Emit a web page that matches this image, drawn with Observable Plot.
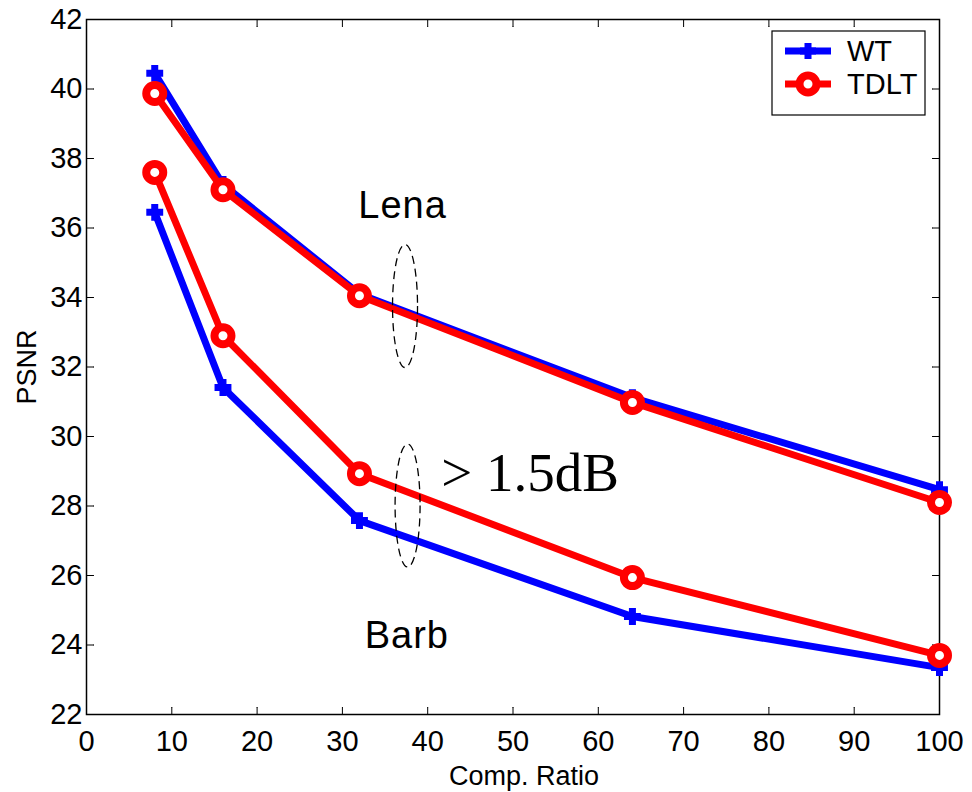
<!DOCTYPE html>
<html>
<head>
<meta charset="utf-8">
<script src="https://cdn.jsdelivr.net/npm/d3@7"></script>
<script src="https://cdn.jsdelivr.net/npm/@observablehq/plot@0.6"></script>
<style>
  html, body { margin: 0; padding: 0; background: white; }
  #chart { width: 972px; height: 792px; }
  .imglabel text { letter-spacing: 1px; }
</style>
</head>
<body>
<div id="chart"></div>
<script>
// ---- data ----
const ratios = [8, 16, 32, 64, 100];
const wtLena = [40.45, 37.25, 34.1, 31.12, 28.47];
const tdltLena = [39.87, 37.1, 34.05, 30.98, 28.1];
const wtBarb = [36.45, 31.41, 27.58, 24.82, 23.35];
const tdltBarb = [37.6, 32.9, 28.93, 25.94, 23.7];
const seriesNames = ["WT", "TDLT"];
const xTicks = [0, 10, 20, 30, 40, 50, 60, 70, 80, 90, 100];
const yTicks = [22, 24, 26, 28, 30, 32, 34, 36, 38, 40, 42];
const imageLabels = ["Lena", "Barb"];
const imageLabelX = [37.05, 37.55];
const imageLabelY = [36.65, 24.25];
const gainLabel = ["> 1.5dB"];
const gainLabelX = [41.6];
const gainLabelY = [28.95];
const ellipseX = [37.4, 37.7];
const ellipseY = [33.74, 28.0];

const toRows = (name, img, ys) => ratios.map((r, i) => ({method: name, image: img, ratio: r, psnr: ys[i]}));
const wtRows = [...toRows("WT", "Lena", wtLena), ...toRows("WT", "Barb", wtBarb)];
const tdltRows = [...toRows("TDLT", "Lena", tdltLena), ...toRows("TDLT", "Barb", tdltBarb)];

const BLUE = "#0000ff", RED = "#ff0000";
const FONT = "'Liberation Sans', Arial, Helvetica, sans-serif";

const tickOpts = {stroke: "black", strokeWidth: 1, length: 7, anchor: "start", shape: "arrow", r: 0};

const plot = Plot.plot({
  width: 972,
  height: 792,
  marginLeft: 86,
  marginRight: 33,
  marginTop: 19,
  marginBottom: 78,
  style: {fontFamily: FONT, background: "white", color: "black"},
  x: {domain: [0, 100]},
  y: {domain: [22, 42]},
  marks: [
    Plot.frame({stroke: "black", strokeWidth: 1.5}),
    // inward tick marks on all four sides
    Plot.vector(xTicks, {...tickOpts, x: d => d, frameAnchor: "bottom", rotate: 0}),
    Plot.vector(xTicks, {...tickOpts, x: d => d, frameAnchor: "top", rotate: 180}),
    Plot.vector(yTicks, {...tickOpts, y: d => d, frameAnchor: "left", rotate: 90}),
    Plot.vector(yTicks, {...tickOpts, y: d => d, frameAnchor: "right", rotate: -90}),
    Plot.axisX({ticks: xTicks, tickSize: 0, tickPadding: 16, fontSize: 29, label: null}),
    Plot.axisY({ticks: yTicks, tickSize: 0, tickPadding: 4, fontSize: 29, label: null}),
    Plot.text(["PSNR"], {frameAnchor: "left", textAnchor: "middle", lineAnchor: "middle", dx: -59, rotate: -90, fontSize: 27}),
    Plot.text(["Comp. Ratio"], {frameAnchor: "bottom", textAnchor: "middle", lineAnchor: "middle", dx: 11, dy: 62, fontSize: 27}),
    // WT (blue)
    Plot.line(wtRows, {x: "ratio", y: "psnr", z: "image", stroke: BLUE, strokeWidth: 7, strokeLinejoin: "miter"}),
    Plot.dot(wtRows, {x: "ratio", y: "psnr", symbol: "plus", r: 5.5, stroke: BLUE, strokeWidth: 7, strokeLinecap: "butt"}),
    // TDLT (red)
    Plot.line(tdltRows, {x: "ratio", y: "psnr", z: "image", stroke: RED, strokeWidth: 7, strokeLinejoin: "miter"}),
    Plot.dot(tdltRows, {x: "ratio", y: "psnr", r: 8.5, stroke: RED, strokeWidth: 8, fill: "white"}),
    // annotations
    Plot.text(imageLabels, {x: (d, i) => imageLabelX[i], y: (d, i) => imageLabelY[i], text: d => d, fontSize: 38, className: "imglabel"}),
    Plot.text(gainLabel, {x: (d, i) => gainLabelX[i], y: (d, i) => gainLabelY[i], text: d => d, textAnchor: "start", fontSize: 55, fontFamily: "'Liberation Serif', 'Times New Roman', serif"})
  ]
});

const svg = d3.select(plot);
const sx = plot.scale("x"), sy = plot.scale("y");
// dashed ellipses marking the gap between methods
ellipseX.forEach((ex, i) => {
  svg.append("ellipse")
    .attr("cx", sx.apply(ex)).attr("cy", sy.apply(ellipseY[i]))
    .attr("rx", 12.5).attr("ry", 61.5)
    .attr("fill", "none").attr("stroke", "black").attr("stroke-width", 1.3)
    .attr("stroke-dasharray", "8,5");
});

// legend box (MATLAB style, inside the axes)
const lg = svg.append("g").attr("font-family", FONT);
lg.append("rect").attr("x", 772).attr("y", 31).attr("width", 153).attr("height", 84)
  .attr("fill", "white").attr("stroke", "black").attr("stroke-width", 1.2);
const legendColors = [BLUE, RED];
seriesNames.forEach((name, i) => {
  const cy = 51 + i * 33;
  lg.append("line").attr("x1", 785).attr("x2", 831).attr("y1", cy).attr("y2", cy)
    .attr("stroke", legendColors[i]).attr("stroke-width", 7);
  if (i === 0) {
    lg.append("path").attr("d", `M${808 - 8},${cy}H${808 + 8}M808,${cy - 8}V${cy + 8}`)
      .attr("stroke", BLUE).attr("stroke-width", 7).attr("fill", "none");
  } else {
    lg.append("circle").attr("cx", 808).attr("cy", cy).attr("r", 8.5)
      .attr("stroke", RED).attr("stroke-width", 8).attr("fill", "white");
  }
  lg.append("text").attr("x", 847).attr("y", cy).attr("dy", "0.36em")
    .attr("text-anchor", "start")
    .attr("font-size", 29).attr("fill", "black").text(name);
});

document.getElementById("chart").appendChild(plot);
</script>
</body>
</html>
